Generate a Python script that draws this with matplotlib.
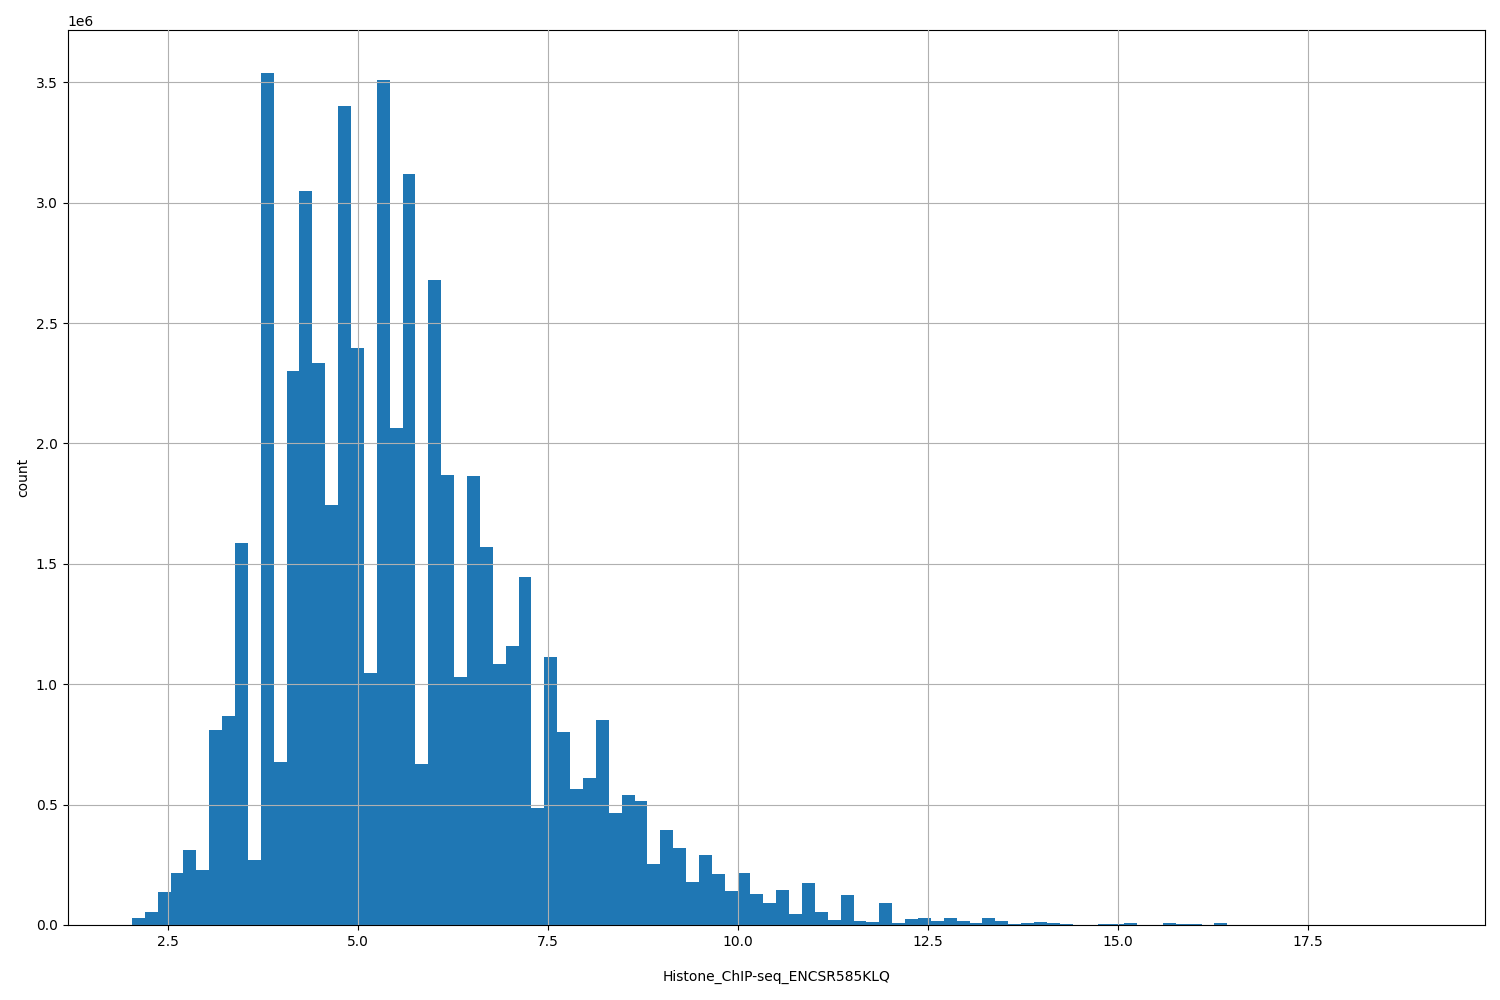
import numpy as np
import matplotlib
matplotlib.use("Agg")
import matplotlib.pyplot as plt

# histogram range and bin counts (100 bins)
x_min = 2.02
x_max = 18.98
n_bins = 100
counts_m = [
    0.03, 0.055, 0.135, 0.215, 0.31, 0.23, 0.81, 0.87, 1.585, 0.27,
    3.54, 0.675, 2.30, 3.05, 2.335, 1.745, 3.40, 2.395, 1.045, 3.51,
    2.065, 3.12, 0.67, 2.68, 1.87, 1.03, 1.865, 1.57, 1.085, 1.16,
    1.445, 0.485, 1.115, 0.80, 0.565, 0.61, 0.85, 0.465, 0.54, 0.515,
    0.255, 0.395, 0.32, 0.18, 0.29, 0.21, 0.14, 0.215, 0.13, 0.09,
    0.145, 0.045, 0.175, 0.055, 0.02, 0.125, 0.015, 0.012, 0.09, 0.008,
    0.025, 0.03, 0.015, 0.03, 0.018, 0.01, 0.03, 0.018, 0.005, 0.008,
    0.012, 0.008, 0.005, 0.002, 0.002, 0.005, 0.004, 0.008, 0.002, 0.002,
    0.008, 0.004, 0.004, 0.001, 0.008, 0.0, 0.0, 0.0, 0.0, 0.0,
    0.0, 0.0, 0.0, 0.0, 0.0, 0.0, 0.0, 0.0, 0.0, 0.001,
]
x_label = "Histone_ChIP-seq_ENCSR585KLQ"

edges = np.linspace(x_min, x_max, n_bins + 1)
centers = (edges[:-1] + edges[1:]) / 2
weights = np.array(counts_m) * 1e6

fig = plt.figure(figsize=(15, 10), dpi=100)
ax = fig.add_axes([0.045, 0.075, 0.945, 0.895])
ax.hist(centers, bins=edges, weights=weights, color="#1f77b4")
ax.grid(True)
ax.set_axisbelow(False)
ax.set_xlabel(x_label, labelpad=15)
ax.set_ylabel("count")
fig.savefig("out.png")
